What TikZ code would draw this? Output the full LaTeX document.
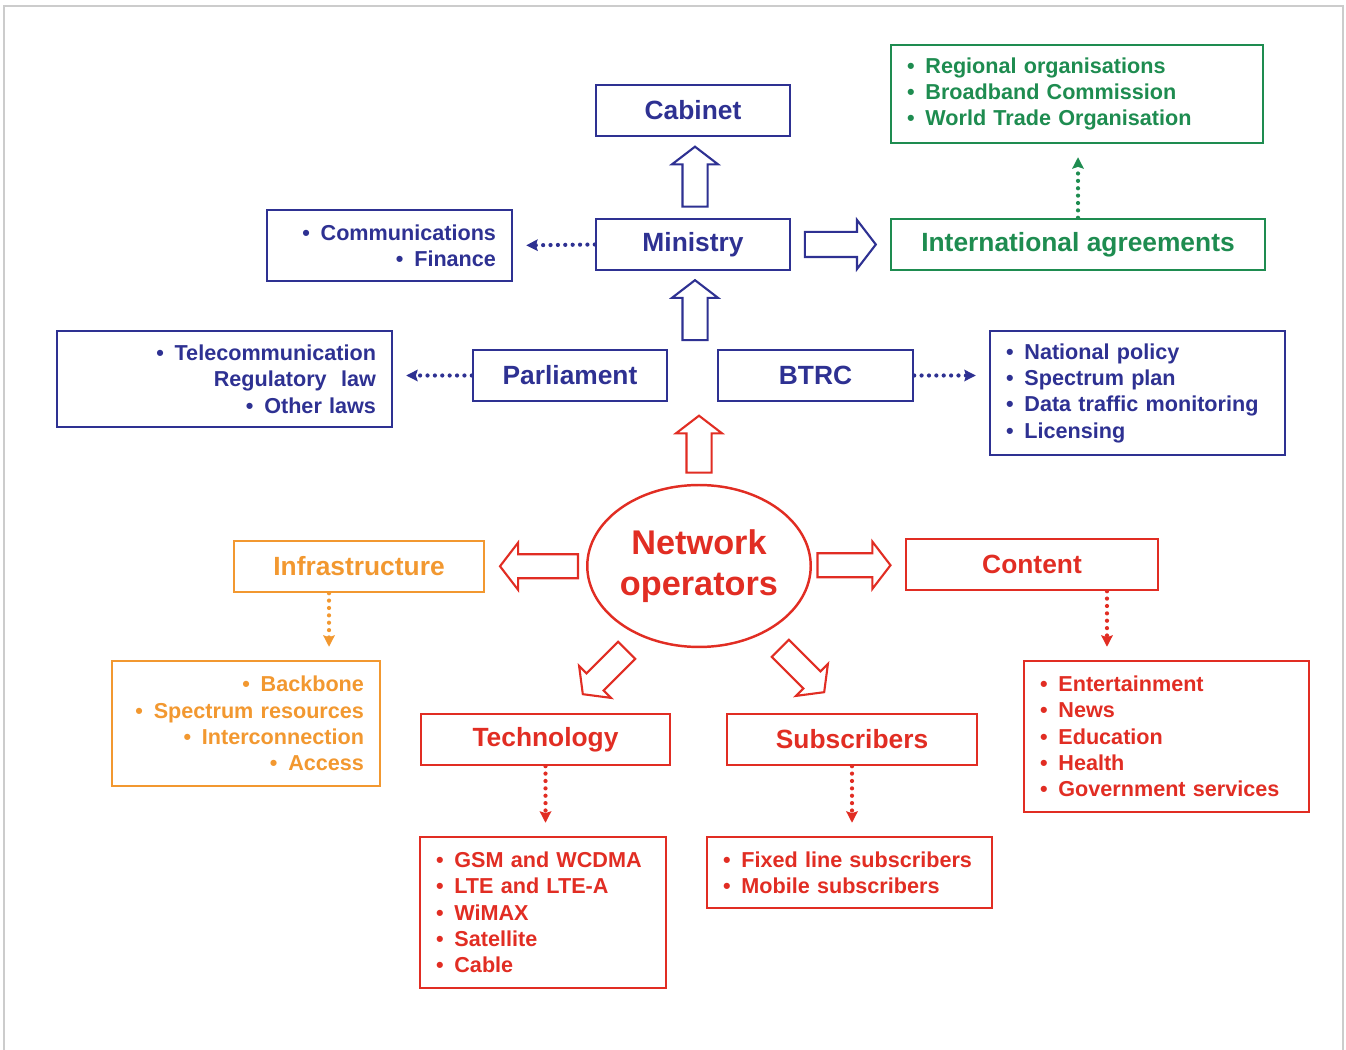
\documentclass[tikz,border=0pt]{standalone}
\usepackage{fontspec}
\setmainfont{Liberation Sans}
\usetikzlibrary{shapes.geometric,shapes.arrows,arrows.meta,positioning,calc}
\definecolor{govblue}{RGB}{46,49,146}
\definecolor{intlgreen}{RGB}{30,140,80}
\definecolor{opred}{RGB}{225,45,35}
\definecolor{infraorange}{RGB}{242,152,48}
\definecolor{framegray}{RGB}{204,204,204}
\newcommand{\itm}{\textbullet\hspace{.5em}}

\begin{document}
\begin{tikzpicture}[
    x=0.02cm, y=-0.02cm,
    box/.style={rectangle, draw=#1, text=#1, line width=1.4pt, minimum height=1.02cm, font=\fontsize{15}{18}\selectfont\bfseries},
    lst/.style={rectangle, draw=#1, text=#1, line width=1.4pt, inner xsep=0.32cm, inner ysep=0pt, font=\fontsize{12.3}{15}\selectfont\bfseries},
    fat/.style={single arrow, draw=#1, fill=white, line width=1.2pt, inner xsep=0pt, inner ysep=0.23cm, single arrow head extend=0.21cm, single arrow tip angle=105},
    dotarr/.style={draw=#1, line width=2.4pt, dash pattern=on 0pt off 4.2pt, line cap=round, -{Stealth[length=6.5pt,width=6.5pt,inset=1pt]}, shorten >=0.26cm}
]
\useasboundingbox (0,0) rectangle (1346,1050);
\draw[framegray, line width=1.5pt] (4,1060) -- (4,6) -- (1343,6) -- (1343,1060);

\node[box=govblue, minimum width=3.88cm] (cab) at (693,110.5) {Cabinet};
\node[box=govblue, minimum width=3.88cm] (mini) at (693,244.5) {Ministry};
\node[box=intlgreen, minimum width=7.48cm] (intl) at (1078,244.5) {International agreements};
\node[lst=intlgreen, text width=6.8cm, align=left, minimum height=1.96cm] (glist) at (1077,94) {\itm Regional organisations\\ \itm Broadband Commission\\ \itm World Trade Organisation};
\node[lst=govblue, text width=4.26cm, align=right, minimum height=1.42cm] (comm) at (389.5,245.5) {\itm Communications\\ \itm Finance};

\node[box=govblue, minimum width=3.88cm] (parl) at (570,375.5) {Parliament};
\node[box=govblue, minimum width=3.9cm] (btrc) at (815.5,375.5) {BTRC};
\node[lst=govblue, text width=6.06cm, align=right, minimum height=1.92cm] (tele) at (224.5,379) {\itm Telecommunication\\ Regulatory\ \ law\\ \itm Other laws};
\node[lst=govblue, text width=5.26cm, align=left, minimum height=2.48cm] (blist) at (1137.5,393) {\itm National policy\\ \itm Spectrum plan\\ \itm Data traffic monitoring\\ \itm Licensing};

\node[ellipse, draw=opred, line width=1.4pt, minimum width=4.36cm, minimum height=3.24cm, inner sep=0pt, text=opred, align=center, font=\fontsize{19.5}{23}\selectfont\bfseries] (netop) at (699,566) {Network\\ operators};

\node[box=infraorange, minimum width=5cm] (infra) at (359,566.5) {Infrastructure};
\node[lst=infraorange, text width=4.72cm, align=right, minimum height=2.5cm] (olist) at (246,723.5) {\itm Backbone\\ \itm Spectrum resources\\ \itm Interconnection\\ \itm Access};
\node[box=opred, minimum width=5.04cm] (cont) at (1032,564.5) {Content};
\node[lst=opred, text width=5.06cm, align=left, minimum height=3.02cm] (clist) at (1166.5,736.5) {\itm Entertainment\\ \itm News\\ \itm Education\\ \itm Health\\ \itm Government services};
\node[box=opred, minimum width=4.98cm] (tech) at (545.5,739.5) {Technology};
\node[lst=opred, text width=4.28cm, align=left, minimum height=3.02cm] (tlist) at (543,912.5) {\itm GSM and WCDMA\\ \itm LTE and LTE-A\\ \itm WiMAX\\ \itm Satellite\\ \itm Cable};
\node[box=opred, minimum width=5cm] (subs) at (852,739.5) {Subscribers};
\node[lst=opred, text width=5.06cm, align=left, minimum height=1.42cm] (slist) at (849.5,872.5) {\itm Fixed line subscribers\\ \itm Mobile subscribers};

\node[fat=govblue, minimum height=1.2cm, rotate=90] (up1) at ($(mini.north)!0.5!(cab.south)+(2,4)$) {};
\node[fat=govblue, minimum height=1.2cm, rotate=90] (up2) at ($(mini.south)!0.5!(mini.south |- parl.north)+(2,5)$) {};
\node[fat=govblue, minimum height=1.42cm, single arrow head extend=0.24cm] (rt1) at ($(mini.east)!0.5!(intl.west)+(-5,0)$) {};
\node[fat=opred, minimum height=1.14cm, rotate=90] (up3) at ($(netop.north)!0.5!(netop.north |- parl.south)+(0,6)$) {};
\node[fat=opred, minimum height=1.56cm, rotate=180, inner ysep=0.22cm, single arrow head extend=0.23cm] (lf1) at ($(netop.west)!0.5!(infra.east)+(8,0)$) {};
\node[fat=opred, minimum height=1.46cm, inner ysep=0.22cm, single arrow head extend=0.23cm] (rt2) at ($(netop.east)!0.5!(cont.west)+(-9,0)$) {};
\node[fat=opred, minimum height=1.24cm, rotate=225, inner ysep=0.22cm] (dl1) at (608,669) {};
\node[fat=opred, minimum height=1.24cm, rotate=-45, inner ysep=0.22cm] (dr1) at (799,667) {};

\draw[dotarr=govblue] (mini.west) -- (comm.east);
\draw[dotarr=govblue] (parl.west) -- (parl.west -| tele.east);
\draw[dotarr=govblue] (btrc.east) -- (btrc.east -| blist.west);
\draw[dotarr=intlgreen] (intl.north) -- (intl.north |- glist.south);
\draw[dotarr=infraorange] ([xshift=-0.6cm]infra.south) -- ([xshift=-0.6cm]infra.south |- olist.north);
\draw[dotarr=opred] ([xshift=1.5cm]cont.south) -- ([xshift=1.5cm]cont.south |- clist.north);
\draw[dotarr=opred] (tech.south) -- (tech.south |- tlist.north);
\draw[dotarr=opred] (subs.south) -- (subs.south |- slist.north);
\end{tikzpicture}
\end{document}
